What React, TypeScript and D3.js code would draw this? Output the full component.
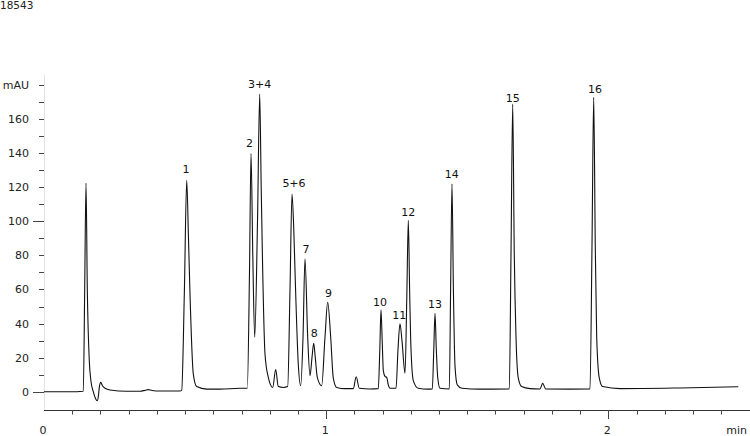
import { useEffect, useRef } from 'react';
import * as d3 from 'd3';

// retention times (min) of the traced points
const traceTimes = [
  0, 0.0921, 0.1393, 0.1442, 0.1489, 0.1535, 0.1606, 0.1666, 0.1747, 0.1825, 0.1889, 0.1932, 0.196, 0.201,
  0.2073, 0.2162, 0.2339, 0.2931, 0.3402, 0.358, 0.3697, 0.3828, 0.4111, 0.482, 0.488, 0.4973, 0.5058, 0.5121,
  0.5175, 0.5291, 0.5412, 0.5766, 0.6238, 0.6947, 0.7205, 0.7283, 0.7337, 0.74, 0.7468, 0.7567, 0.7645, 0.7698,
  0.7751, 0.7833, 0.795, 0.8106, 0.8212, 0.8304, 0.8481, 0.8637, 0.8719, 0.879, 0.8853, 0.8896, 0.9013, 0.9098,
  0.918, 0.925, 0.9346, 0.9428, 0.9498, 0.9559, 0.9615, 0.9686, 0.9842, 0.9959, 1.0055, 1.0161, 1.0253, 1.0374,
  1.0668, 1.0962, 1.1065, 1.1175, 1.1554, 1.1848, 1.1902, 1.1944, 1.199, 1.2026, 1.2086, 1.2146, 1.2203, 1.2263,
  1.2476, 1.2547, 1.2617, 1.2688, 1.2795, 1.2858, 1.2912, 1.2958, 1.2997, 1.3089, 1.3266, 1.362, 1.3762, 1.3815,
  1.3858, 1.3904, 1.3954, 1.4035, 1.4365, 1.4411, 1.446, 1.451, 1.4567, 1.4648, 1.4815, 1.5453, 1.6491, 1.6551,
  1.6612, 1.6668, 1.6729, 1.681, 1.6931, 1.7225, 1.7579, 1.7675, 1.7781, 1.8643, 1.9351, 1.9422, 1.9482, 1.9539,
  1.9589, 1.9681, 1.9802, 2.0415, 2.2541, 2.4607,
];

// absorbance (mAU) at those times
const traceValues = [
  0, 0, 0.3, 60, 122.5, 60, 18, 6, 0, -4, -5.3, -2, 2.5, 5.5,
  3.5, 2, 1, 0.3, 0.3, 0.8, 1.2, 0.7, 0.4, 0.4, 0.8, 57, 124, 90,
  57, 10.5, 3, 1.5, 1.5, 2, 2, 70, 139.8, 80, 32, 100, 174.7, 120,
  71, 22, 8.4, 2.5, 13, 3, 2.5, 3, 60, 116, 95, 71, 16, 3.5,
  32, 78, 32, 9.4, 20, 28.4, 20, 8.4, 3.5, 32, 52.5, 32, 8, 2.5,
  1.8, 1.8, 8.8, 2, 1.6, 1.8, 25, 48, 28, 12.4, 9, 8.4, 4, 2,
  2, 25, 39.8, 30, 10.8, 55, 100.6, 60, 30, 6.5, 2, 1.5, 1.6, 25,
  46, 25, 8.4, 2, 1.6, 60, 122, 60, 15, 4, 2, 1.5, 1.6, 80,
  168.8, 80, 32, 8, 3, 1.8, 1.6, 4.9, 1.6, 1.5, 1.6, 85,
  172.7, 85, 32, 8, 3, 1.8, 2.2, 2.9,
];

// peak annotations
const peakLabels = ['1', '2', '3+4', '5+6', '7', '8', '9', '10', '11', '12', '13', '14', '15', '16'];
const peakLabelTimes = [0.503, 0.728, 0.764, 0.886, 0.929, 0.958, 1.008, 1.191, 1.259, 1.291, 1.386, 1.445, 1.661, 1.953];
const peakLabelLevels = [128.2, 143.8, 178.2, 120.3, 81.6, 31.9, 55.4, 50.3, 42.5, 103.1, 48.9, 125.2, 170.2, 175.1];

const yTickValues = [0, 10, 20, 30, 40, 50, 60, 70, 80, 90, 100, 110, 120, 130, 140, 150, 160, 170, 180];
const yTickLabels = ['0', '', '20', '', '40', '', '60', '', '80', '', '100', '', '120', '', '140', '', '160', '', 'mAU'];
const xTickValues = d3.range(0, 25).map(i => i / 10);
const xTickLabels = ['0', '1', '2'];

const sampleId = '18543';

const Chromatogram = () => {
  const svgRef = useRef<SVGSVGElement>(null);

  useEffect(() => {
    if (!svgRef.current) return;
    const width = 750;
    const height = 436;
    const font = 'DejaVu Sans, Verdana, sans-serif';

    d3.select(svgRef.current).selectAll('*').remove();
    const svg = d3.select(svgRef.current).attr('width', width).attr('height', height);

    const x = d3.scaleLinear().domain([0, 2.5]).range([44, 44 + 282.15 * 2.5]);
    const y = d3.scaleLinear().domain([0, 180]).range([391.7, 391.7 - 180 * 1.704]);

    // sample id
    svg.append('text')
      .attr('x', 0)
      .attr('y', 9)
      .style('font-family', font)
      .style('font-size', '10.5px')
      .attr('fill', '#222')
      .text(sampleId);

    // y axis (faint line)
    svg.append('line')
      .attr('x1', 44.5).attr('x2', 44.5)
      .attr('y1', 75).attr('y2', 410)
      .attr('stroke', '#e2e2e2');

    yTickValues.forEach((v, i) => {
      const long = v === 0 || v === 100;
      const yy = Math.round(y(v)) + 0.5;
      svg.append('line')
        .attr('x1', long ? 33 : 39).attr('x2', 44)
        .attr('y1', yy).attr('y2', yy)
        .attr('stroke', '#444');
      if (yTickLabels[i]) {
        svg.append('text')
          .attr('x', 29)
          .attr('y', y(v) + 4)
          .attr('text-anchor', 'end')
          .style('font-family', font)
          .style('font-size', '11px')
          .attr('fill', '#222')
          .text(yTickLabels[i]);
      }
    });

    // x axis
    svg.append('line')
      .attr('x1', 44).attr('x2', width)
      .attr('y1', 410.5).attr('y2', 410.5)
      .attr('stroke', '#333');

    xTickValues.forEach(v => {
      if (v === 0) return;
      const major = Math.abs(v - Math.round(v)) < 1e-6;
      const xx = Math.round(x(v)) + 0.5;
      svg.append('line')
        .attr('x1', xx).attr('x2', xx)
        .attr('y1', 410).attr('y2', major ? 419 : 414.5)
        .attr('stroke', '#444');
    });

    xTickLabels.forEach((lbl, i) => {
      svg.append('text')
        .attr('x', x(i) - 1)
        .attr('y', 434)
        .attr('text-anchor', 'middle')
        .style('font-family', font)
        .style('font-size', '11px')
        .attr('fill', '#222')
        .text(lbl);
    });

    svg.append('text')
      .attr('x', 747)
      .attr('y', 434)
      .attr('text-anchor', 'end')
      .style('font-family', font)
      .style('font-size', '11px')
      .attr('fill', '#222')
      .text('min');

    // trace
    const points = traceTimes.map((t, i) => [t, traceValues[i]] as [number, number]);
    const line = d3.line<[number, number]>()
      .x(d => x(d[0]))
      .y(d => y(d[1]))
      .curve(d3.curveMonotoneX);

    svg.append('path')
      .datum(points)
      .attr('d', line)
      .attr('fill', 'none')
      .attr('stroke', '#111')
      .attr('stroke-width', 1.1);

    // peak labels
    svg.selectAll('.peak-label')
      .data(peakLabels)
      .enter()
      .append('text')
      .attr('class', 'peak-label')
      .attr('x', (_, i) => x(peakLabelTimes[i]))
      .attr('y', (_, i) => y(peakLabelLevels[i]))
      .attr('text-anchor', 'middle')
      .style('font-family', font)
      .style('font-size', '11px')
      .attr('fill', '#111')
      .text(d => d);
  }, []);

  return <svg ref={svgRef} style={{ position: 'absolute', left: 0, top: 0 }}></svg>;
};

export default function App() {
  return <Chromatogram />;
}
